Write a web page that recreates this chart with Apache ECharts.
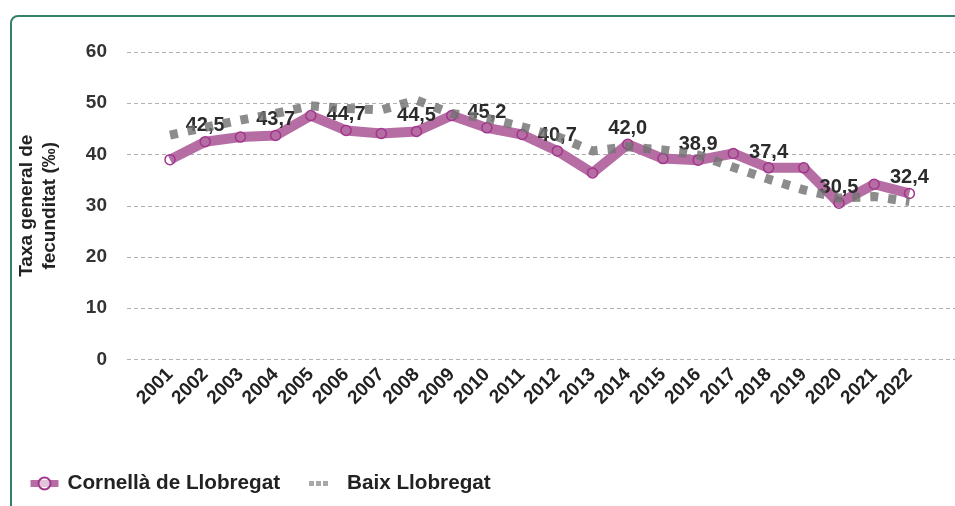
<!DOCTYPE html>
<html>
<head>
<meta charset="utf-8">
<script src="https://cdn.jsdelivr.net/npm/echarts@6/dist/echarts.min.js"></script>
<style>
html,body{margin:0;padding:0;background:#fff;overflow:hidden;}
#frame{position:absolute;left:10px;top:15px;width:990px;height:540px;border:2px solid #35806a;border-radius:8px;box-sizing:border-box;}
#chart{position:absolute;left:0;top:0;width:955px;height:506px;}
</style>
</head>
<body>
<div id="frame"></div>
<div id="chart"></div>
<script>
const years = ['2001','2002','2003','2004','2005','2006','2007','2008','2009','2010','2011','2012','2013','2014','2015','2016','2017','2018','2019','2020','2021','2022'];
const cornella = [39.0, 42.5, 43.4, 43.7, 47.6, 44.7, 44.1, 44.5, 47.6, 45.2, 43.9, 40.7, 36.4, 42.0, 39.2, 38.9, 40.2, 37.4, 37.4, 30.5, 34.2, 32.4];
const baix = [43.8, 45.3, 46.7, 48.0, 49.5, 49.0, 48.7, 50.6, 48.0, 47.1, 45.4, 43.5, 40.7, 41.5, 40.9, 39.9, 37.5, 35.2, 33.1, 31.5, 31.8, 30.8];
const yTicks = [0, 10, 20, 30, 40, 50, 60];
const labelledYears = ['2002','2004','2006','2008','2010','2012','2014','2016','2018','2020','2022'];

const FONT = '"Liberation Sans", Arial, sans-serif';
const chart = echarts.init(document.getElementById('chart'), null, {renderer: 'canvas'});

const cornellaData = cornella.map((v, i) => ({
  value: v,
  label: {show: labelledYears.indexOf(years[i]) >= 0}
}));

const legendText = {fontFamily: FONT, fontSize: 20.7, fontWeight: 'bold', color: '#222'};

chart.setOption({
  animation: false,
  textStyle: {fontFamily: FONT},
  legend: [
    {
      left: 22, top: 468,
      itemWidth: 28, itemHeight: 15,
      textStyle: Object.assign({padding: [0, 0, 0, 4]}, legendText),
      data: [{name: 'Cornellà de Llobregat', itemStyle: {color: 'rgba(255,255,255,0.6)', borderColor: '#a2368c', borderWidth: 2}, lineStyle: {color: '#b56da4', width: 7}}]
    },
    {
      left: 304, top: 468,
      itemWidth: 19, itemHeight: 5,
      textStyle: Object.assign({padding: [0, 0, 0, 14]}, legendText),
      data: [{name: 'Baix Llobregat', icon: 'path://M0,0h5v5h-5z M7,0h5v5h-5z M14,0h5v5h-5z', itemStyle: {color: '#a8a8a8'}}]
    }
  ],
  grid: [
    {left: 127, right: 0, top: 52, bottom: 146.5},
    {left: 152.4, right: 28, top: 52, bottom: 146.5}
  ],
  xAxis: [
    {gridIndex: 0, type: 'value', min: 0, max: 1, show: false},
    {
      gridIndex: 1, type: 'category', data: years, boundaryGap: true,
      axisLine: {show: false}, axisTick: {show: false},
      axisLabel: {rotate: 45, interval: 0, margin: 12, fontFamily: FONT, fontSize: 19, fontWeight: 'bold', color: '#222'}
    }
  ],
  yAxis: [
    {
      gridIndex: 0, type: 'value', min: yTicks[0], max: yTicks[yTicks.length - 1], interval: 10,
      name: 'Taxa general de\nfecunditat (‰)', nameLocation: 'middle', nameGap: 66, nameRotate: 90,
      nameTextStyle: {fontFamily: FONT, fontSize: 19, fontWeight: 'bold', color: '#222', lineHeight: 23},
      axisLine: {show: false}, axisTick: {show: false},
      axisLabel: {margin: 20, fontFamily: FONT, fontSize: 19, fontWeight: 'bold', color: '#333'},
      splitLine: {lineStyle: {color: '#b0b0b0', type: [4, 3], width: 1}}
    },
    {
      gridIndex: 1, type: 'value', min: yTicks[0], max: yTicks[yTicks.length - 1], interval: 10,
      show: false, splitLine: {show: false}
    }
  ],
  series: [
    {
      name: 'Cornellà de Llobregat', type: 'line', xAxisIndex: 1, yAxisIndex: 1,
      data: cornellaData,
      symbol: 'circle', symbolSize: 10,
      lineStyle: {color: '#b56da4', width: 10},
      itemStyle: {color: 'rgba(255,255,255,0)', borderColor: '#a2368c', borderWidth: 1.5},
      label: {
        position: 'top', distance: 0,
        fontFamily: FONT, fontSize: 20, fontWeight: 'bold', color: '#2b2b2b',
        formatter: p => p.value.toFixed(1).replace('.', ',')
      },
      z: 2
    },
    {
      name: 'Baix Llobregat', type: 'line', xAxisIndex: 1, yAxisIndex: 1,
      data: baix,
      symbol: 'none',
      lineStyle: {color: 'rgba(115,115,115,0.82)', width: 9, type: [8, 10], cap: 'butt'},
      itemStyle: {color: '#8f8f8f'},
      z: 3
    }
  ]
});
</script>
</body>
</html>
